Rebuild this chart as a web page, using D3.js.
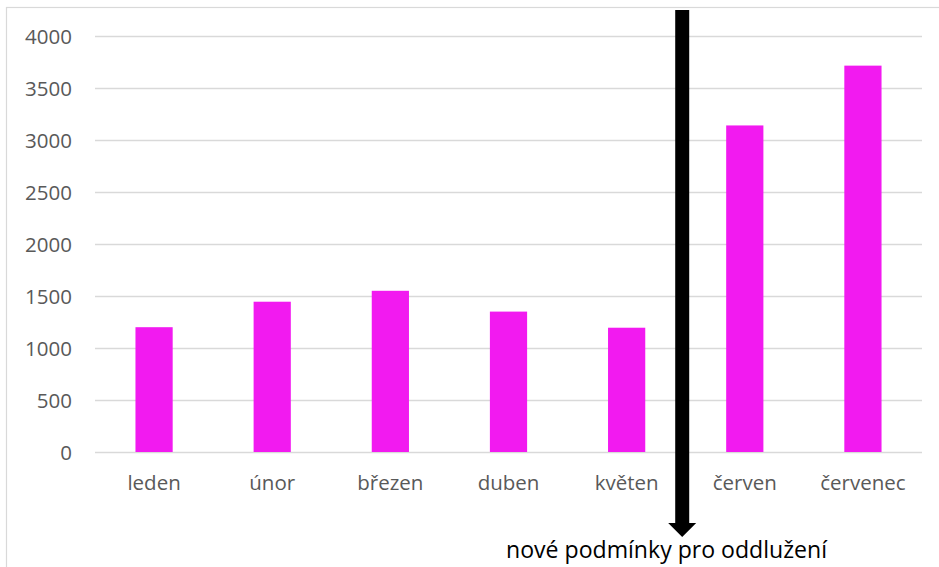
<!DOCTYPE html>
<html>
<head>
<meta charset="utf-8">
<script src="https://cdn.jsdelivr.net/npm/d3@7"></script>
<style>
  html, body { margin: 0; padding: 0; background: #fff; }
  svg { display: block; }
</style>
</head>
<body>
<svg id="chart" width="939" height="567"></svg>
<script>
const months = ["leden", "únor", "březen", "duben", "květen", "červen", "červenec"];
const values = [1200, 1445, 1550, 1350, 1195, 3140, 3715];
const yTicks = [0, 500, 1000, 1500, 2000, 2500, 3000, 3500, 4000];
const annotation = "nové podmínky pro oddlužení";
const markerBefore = "červen";

const svg = d3.select("#chart");
const W = 939, H = 567;
const plot = { left: 95, right: 922, top: 36, bottom: 452 };

// frame
svg.append("rect")
  .attr("x", 6.5).attr("y", 7.5)
  .attr("width", W + 10).attr("height", H + 10)
  .attr("fill", "#fff").attr("stroke", "#d9d9d9").attr("stroke-width", 1.2);

const x = d3.scaleBand().domain(months).range([plot.left, plot.right]).paddingInner(0).paddingOuter(0);
const y = d3.scaleLinear().domain([0, 4000]).range([plot.bottom, plot.top]);

// gridlines
svg.append("g").selectAll("line").data(yTicks).join("line")
  .attr("x1", plot.left).attr("x2", plot.right)
  .attr("y1", d => Math.round(y(d)) + 0.5).attr("y2", d => Math.round(y(d)) + 0.5)
  .attr("stroke", "#d9d9d9").attr("stroke-width", 1.5);

// y axis labels
const yAxis = d3.axisLeft(y).tickValues(yTicks).tickSize(0).tickPadding(0).tickFormat(d3.format("d"));
const gy = svg.append("g").attr("transform", `translate(72,0)`).call(yAxis);
gy.select(".domain").remove();
gy.selectAll("text")
  .attr("font-family", "'Open Sans', sans-serif").attr("font-size", 20.5)
  .attr("fill", "#595959").attr("x", 0).attr("dy", "0.35em");

// bars
const barW = x.bandwidth() * 0.315;
svg.append("g").selectAll("rect").data(months).join("rect")
  .attr("x", (d) => x(d) + (x.bandwidth() - barW) / 2)
  .attr("y", (d, i) => y(values[i]))
  .attr("width", barW)
  .attr("height", (d, i) => y(0) - y(values[i]))
  .attr("fill", "#f21af0");

// x axis labels
const xAxis = d3.axisBottom(x).tickSize(0).tickPadding(0);
const gx = svg.append("g").attr("transform", `translate(0,490)`).call(xAxis);
gx.select(".domain").remove();
gx.selectAll("text")
  .attr("font-family", "'Open Sans', sans-serif").attr("font-size", 20.5)
  .attr("fill", "#595959").attr("y", 0).attr("dy", 0);

// arrow marker
const ax = x(markerBefore) - 3.5;
const shaftW = 14, headW = 28, headTop = 523, tip = 537;
svg.append("rect")
  .attr("x", ax - shaftW / 2).attr("y", 10)
  .attr("width", shaftW).attr("height", headTop - 10 + 1)
  .attr("fill", "#000");
svg.append("path")
  .attr("d", `M${ax - headW / 2},${headTop} L${ax + headW / 2},${headTop} L${ax},${tip} Z`)
  .attr("fill", "#000");

// annotation
const t = svg.append("text")
  .attr("x", 666.5).attr("y", 558)
  .attr("text-anchor", "middle")
  .attr("font-family", "'Open Sans', sans-serif").attr("font-size", 22)
  .attr("fill", "#000")
  .text(annotation);
const len = t.node().getComputedTextLength();
t.attr("font-size", 22 * 321 / len);
</script>
</body>
</html>
